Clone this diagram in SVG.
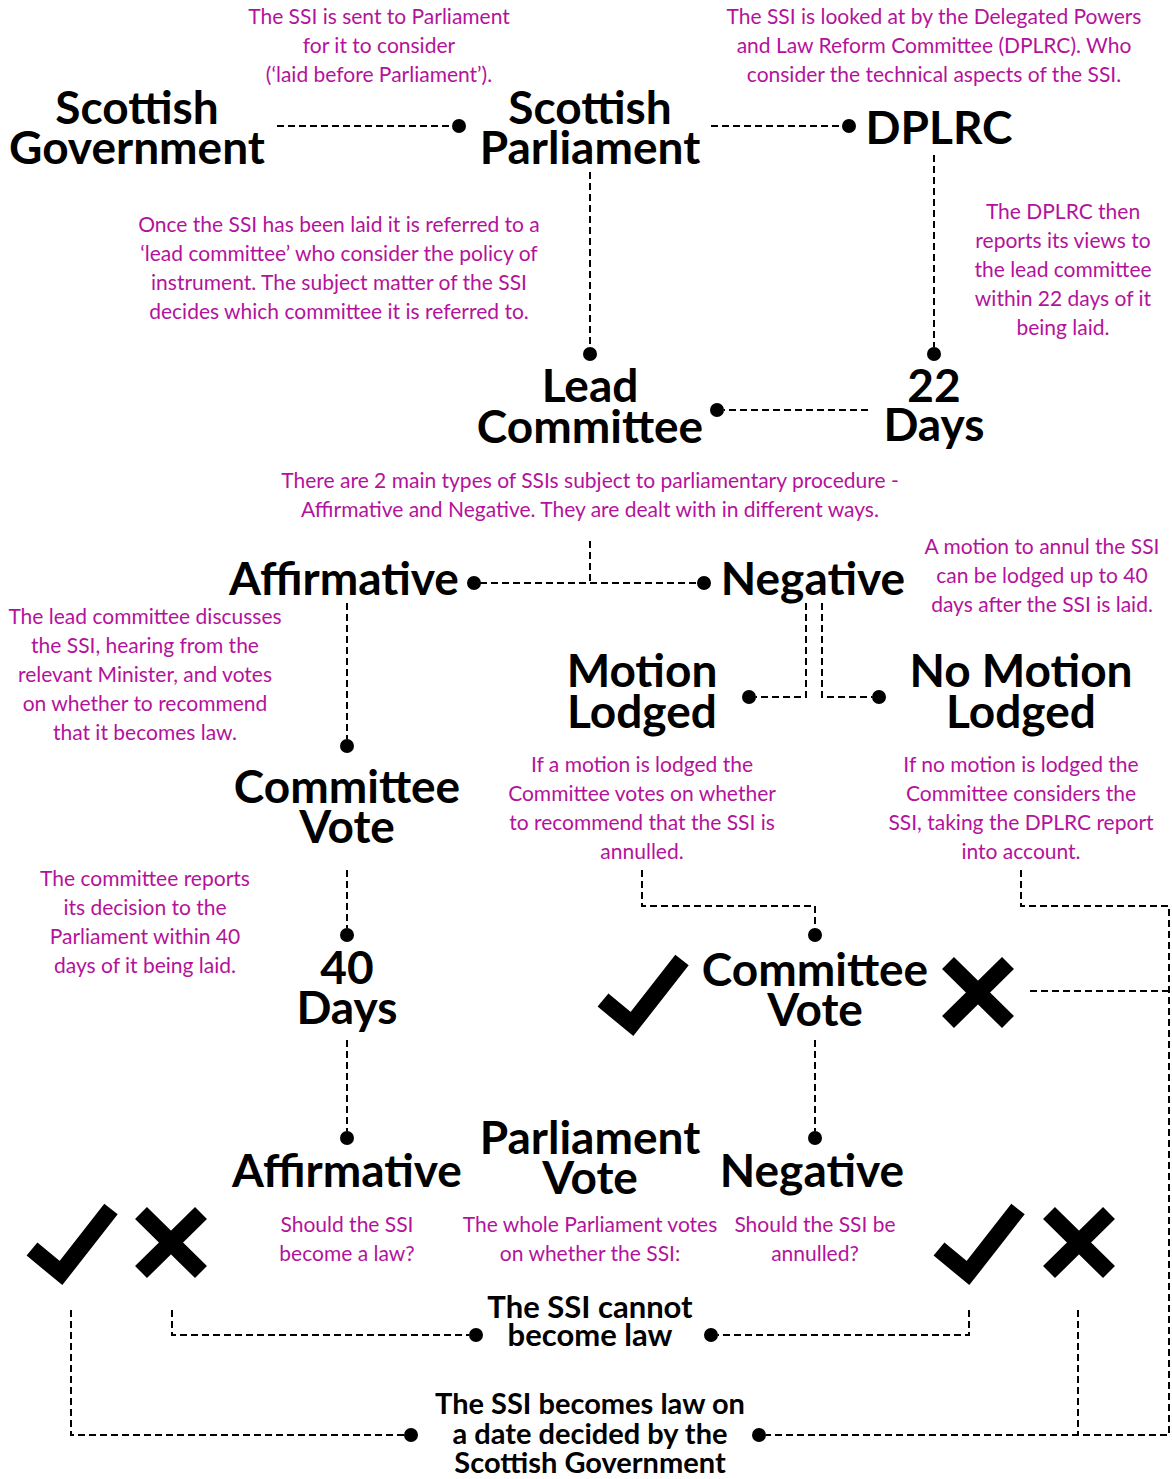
<svg xmlns="http://www.w3.org/2000/svg" width="1172" height="1479" viewBox="0 0 1172 1479">
<style>
.n{font-family:Lato,"Liberation Sans",sans-serif;font-weight:700;font-size:46px;fill:#000;text-anchor:middle}
.s{font-family:Lato,"Liberation Sans",sans-serif;font-weight:700;font-size:31px;fill:#000;text-anchor:middle}
.t{font-family:Lato,"Liberation Sans",sans-serif;font-weight:700;font-size:29px;fill:#000;text-anchor:middle}
.p{font-family:Lato,"Liberation Sans",sans-serif;font-weight:400;font-size:21px;fill:#b3139b;text-anchor:middle}
.c{fill:none;stroke:#000;stroke-width:2;stroke-dasharray:7 4}
.d{fill:#000}
.k{fill:none;stroke:#000;stroke-width:17}
</style>
<rect width="1172" height="1479" fill="#fff"/>
<g id="connectors">
<path class="c" d="M277 126H452"/><circle class="d" cx="459" cy="126" r="7"/>
<path class="c" d="M711 126H842"/><circle class="d" cx="849" cy="126" r="7"/>
<path class="c" d="M590 172V347"/><circle class="d" cx="590" cy="354" r="7"/>
<path class="c" d="M934 155V347"/><circle class="d" cx="934" cy="354" r="7"/>
<path class="c" d="M868 410H724"/><circle class="d" cx="717" cy="410" r="7"/>
<path class="c" d="M590 541V583M480 583H698"/><circle class="d" cx="474" cy="583" r="7"/><circle class="d" cx="704" cy="583" r="7"/>
<path class="c" d="M347 603V739"/><circle class="d" cx="347" cy="746" r="7"/>
<path class="c" d="M806 603V697H756"/><circle class="d" cx="749" cy="697" r="7"/>
<path class="c" d="M822 603V697H872"/><circle class="d" cx="879" cy="697" r="7"/>
<path class="c" d="M347 870V928"/><circle class="d" cx="347" cy="935" r="7"/>
<path class="c" d="M642 870V906H815V928"/><circle class="d" cx="815" cy="935" r="7"/>
<path class="c" d="M1021 870V906H1169V1435H766"/><circle class="d" cx="759" cy="1435" r="7"/>
<path class="c" d="M1030 991H1169"/>
<path class="c" d="M347 1040V1131"/><circle class="d" cx="347" cy="1138" r="7"/>
<path class="c" d="M815 1040V1131"/><circle class="d" cx="815" cy="1138" r="7"/>
<path class="c" d="M172 1310V1335H469"/><circle class="d" cx="476" cy="1335" r="7"/>
<path class="c" d="M969 1310V1335H718"/><circle class="d" cx="711" cy="1335" r="7"/>
<path class="c" d="M71 1310V1435H404"/><circle class="d" cx="411" cy="1435" r="7"/>
<path class="c" d="M1078 1310V1435"/>
</g>
<g id="scottish-government"><text class="n" x="137" y="124">Scottish</text><text class="n" x="137" y="164">Government</text></g>
<g id="scottish-parliament"><text class="n" x="590" y="124">Scottish</text><text class="n" x="590" y="164">Parliament</text></g>
<g id="dplrc"><text class="n" x="939" y="144">DPLRC</text></g>
<g id="lead-committee"><text class="n" x="590" y="402">Lead</text><text class="n" x="590" y="443">Committee</text></g>
<g id="days-22"><text class="n" x="934" y="402">22</text><text class="n" x="934" y="441">Days</text></g>
<g id="affirmative"><text class="n" x="344" y="595">Affirmative</text></g>
<g id="negative"><text class="n" x="813" y="595">Negative</text></g>
<g id="motion-lodged"><text class="n" x="642" y="687">Motion</text><text class="n" x="642" y="728">Lodged</text></g>
<g id="no-motion-lodged"><text class="n" x="1021" y="687">No Motion</text><text class="n" x="1021" y="728">Lodged</text></g>
<g id="committee-vote-left"><text class="n" x="347" y="803">Committee</text><text class="n" x="347" y="843">Vote</text></g>
<g id="days-40"><text class="n" x="347" y="984">40</text><text class="n" x="347" y="1024">Days</text></g>
<g id="committee-vote-right"><text class="n" x="815" y="986">Committee</text><text class="n" x="815" y="1026">Vote</text>
<polyline class="k" points="603,1000 632,1024 682,960"/>
<path class="k" d="M948 963L1008 1022M1008 963L948 1022"/></g>
<g id="affirmative-vote"><text class="n" x="347" y="1187">Affirmative</text>
<polyline class="k" points="32,1249 61,1273 111,1209"/>
<path class="k" d="M141 1213L201 1272M201 1213L141 1272"/></g>
<g id="parliament-vote"><text class="n" x="590" y="1154">Parliament</text><text class="n" x="590" y="1194">Vote</text></g>
<g id="negative-vote"><text class="n" x="812" y="1187">Negative</text>
<polyline class="k" points="939,1249 968,1273 1018,1209"/>
<path class="k" d="M1049 1213L1109 1272M1109 1213L1049 1272"/></g>
<g id="cannot-become-law"><text class="s" x="590" y="1318">The SSI cannot</text><text class="s" x="590" y="1346">become law</text></g>
<g id="becomes-law"><text class="t" x="590" y="1414">The SSI becomes law on</text><text class="t" x="590" y="1444">a date decided by the</text><text class="t" x="590" y="1473">Scottish Government</text></g>
<g id="notes">
<text class="p" x="379" y="24">The SSI is sent to Parliament</text><text class="p" x="379" y="53">for it to consider</text><text class="p" x="379" y="82">(‘laid before Parliament’).</text>
<text class="p" x="934" y="24">The SSI is looked at by the Delegated Powers</text><text class="p" x="934" y="53">and Law Reform Committee (DPLRC). Who</text><text class="p" x="934" y="82">consider the technical aspects of the SSI.</text>
<text class="p" x="339" y="232">Once the SSI has been laid it is referred to a</text><text class="p" x="339" y="261">‘lead committee’ who consider the policy of</text><text class="p" x="339" y="290">instrument. The subject matter of the SSI</text><text class="p" x="339" y="319">decides which committee it is referred to.</text>
<text class="p" x="1063" y="219">The DPLRC then</text><text class="p" x="1063" y="248">reports its views to</text><text class="p" x="1063" y="277">the lead committee</text><text class="p" x="1063" y="306">within 22 days of it</text><text class="p" x="1063" y="335">being laid.</text>
<text class="p" x="590" y="488">There are 2 main types of SSIs subject to parliamentary procedure -</text><text class="p" x="590" y="517">Affirmative and Negative. They are dealt with in different ways.</text>
<text class="p" x="1042" y="554">A motion to annul the SSI</text><text class="p" x="1042" y="583">can be lodged up to 40</text><text class="p" x="1042" y="612">days after the SSI is laid.</text>
<text class="p" x="145" y="624">The lead committee discusses</text><text class="p" x="145" y="653">the SSI, hearing from the</text><text class="p" x="145" y="682">relevant Minister, and votes</text><text class="p" x="145" y="711">on whether to recommend</text><text class="p" x="145" y="740">that it becomes law.</text>
<text class="p" x="642" y="772">If a motion is lodged the</text><text class="p" x="642" y="801">Committee votes on whether</text><text class="p" x="642" y="830">to recommend that the SSI is</text><text class="p" x="642" y="859">annulled.</text>
<text class="p" x="1021" y="772">If no motion is lodged the</text><text class="p" x="1021" y="801">Committee considers the</text><text class="p" x="1021" y="830">SSI, taking the DPLRC report</text><text class="p" x="1021" y="859">into account.</text>
<text class="p" x="145" y="886">The committee reports</text><text class="p" x="145" y="915">its decision to the</text><text class="p" x="145" y="944">Parliament within 40</text><text class="p" x="145" y="973">days of it being laid.</text>
<text class="p" x="347" y="1232">Should the SSI</text><text class="p" x="347" y="1261">become a law?</text>
<text class="p" x="590" y="1232">The whole Parliament votes</text><text class="p" x="590" y="1261">on whether the SSI:</text>
<text class="p" x="815" y="1232">Should the SSI be</text><text class="p" x="815" y="1261">annulled?</text>
</g>
</svg>
